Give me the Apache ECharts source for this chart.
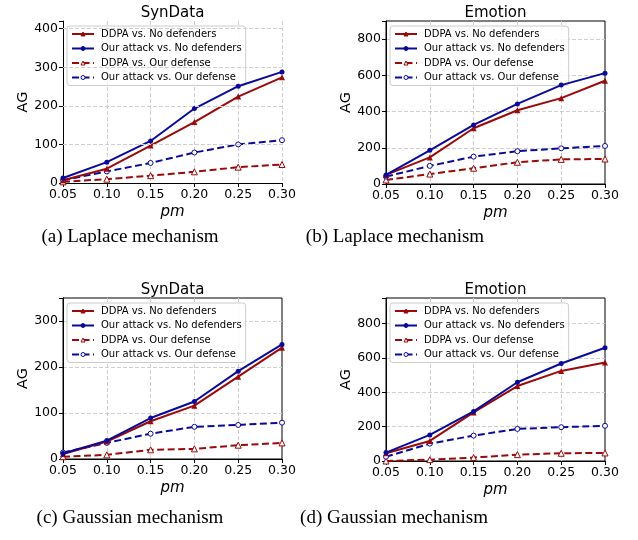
<!DOCTYPE html>
<html>
<head>
<meta charset="utf-8">
<script src="https://cdn.jsdelivr.net/npm/echarts@6/dist/echarts.min.js"></script>
<style>
  html, body { margin: 0; padding: 0; background: #fff; }
  #chart { width: 638px; height: 540px; }
</style>
</head>
<body>
<div id="chart"></div>
<script>
// Attack gain (AG) versus poisoning ratio pm
const pm = [0.05, 0.10, 0.15, 0.20, 0.25, 0.30];
const seriesNames = [
  'DDPA vs. No defenders',
  'Our attack vs. No defenders',
  'DDPA vs. Our defense',
  'Our attack vs. Our defense'
];

// (a) SynData, Laplace mechanism
const synLapDdpaNo = [7, 37, 97, 158, 224, 274];
const synLapOursNo = [13, 54, 109, 193, 251, 288];
const synLapDdpaDef = [3, 10, 19, 29, 41, 48];
const synLapOursDef = [7, 30, 52, 79, 100, 111];

// (b) Emotion, Laplace mechanism
const emoLapDdpaNo = [50, 147, 308, 407, 474, 570];
const emoLapOursNo = [50, 186, 326, 442, 546, 612];
const emoLapDdpaDef = [22, 55, 87, 120, 136, 138];
const emoLapOursDef = [41, 100, 151, 181, 197, 210];

// (c) SynData, Gaussian mechanism
const synGauDdpaNo = [11, 38, 82, 116, 179, 242];
const synGauOursNo = [12, 40, 89, 125, 191, 249];
const synGauDdpaDef = [5, 9, 20, 22, 30, 35];
const synGauOursDef = [14, 35, 55, 70, 74, 79];

// (d) Emotion, Gaussian mechanism
const emoGauDdpaNo = [45, 117, 283, 437, 525, 574];
const emoGauOursNo = [49, 152, 289, 459, 568, 660];
const emoGauDdpaDef = [0, 8, 20, 37, 45, 47];
const emoGauOursDef = [25, 101, 148, 187, 197, 205];

const panelTitles = ['SynData', 'Emotion', 'SynData', 'Emotion'];
const captions = [
  '(a) Laplace mechanism',
  '(b) Laplace mechanism',
  '(c) Gaussian mechanism',
  '(d) Gaussian mechanism'
];
const yMax = [420, 900, 350, 950];
const yStep = [100, 200, 100, 200];

const panelData = [
  [synLapDdpaNo, synLapOursNo, synLapDdpaDef, synLapOursDef],
  [emoLapDdpaNo, emoLapOursNo, emoLapDdpaDef, emoLapOursDef],
  [synGauDdpaNo, synGauOursNo, synGauDdpaDef, synGauOursDef],
  [emoGauDdpaNo, emoGauOursNo, emoGauDdpaDef, emoGauOursDef]
];

// plot rectangles; the first panel is drawn open (left and bottom spines only)
const boxes = [
  { left: 63, top: 21, width: 219, height: 162, frame: false },
  { left: 386, top: 21, width: 219, height: 163, frame: true },
  { left: 63, top: 298, width: 219, height: 161, frame: true },
  { left: 386, top: 298, width: 219, height: 163, frame: true }
];
const captionPos = [[130, 228], [395, 228], [130, 509], [394, 509]];

const RED = '#9a0a0a';
const BLUE = '#0a0a9a';
const GRID_COLOR = '#cfcfcf';
const FONT = 'DejaVu Sans';

const styles = [
  { color: RED, symbol: 'triangle', size: 6, dashed: false },
  { color: BLUE, symbol: 'circle', size: 5, dashed: false },
  { color: RED, symbol: 'triangle', size: 6, dashed: true },
  { color: BLUE, symbol: 'circle', size: 5, dashed: true }
];

const grid = [], xAxis = [], yAxis = [], series = [], legend = [], title = [];

boxes.forEach((b, i) => {
  grid.push({
    left: b.left, top: b.top, width: b.width, height: b.height,
    show: b.frame, borderColor: '#000', borderWidth: 1, backgroundColor: 'transparent'
  });
  xAxis.push({
    gridIndex: i, type: 'value', min: 0.05, max: 0.30, interval: 0.05,
    name: 'pm', nameLocation: 'middle', nameGap: 22,
    nameTextStyle: { fontFamily: FONT, fontSize: 15, fontStyle: 'italic', color: '#000' },
    axisLine: { show: true, lineStyle: { color: '#000', width: 1 } },
    axisTick: { show: true, length: 4, lineStyle: { color: '#000' } },
    axisLabel: { fontFamily: FONT, fontSize: 12.5, color: '#000', margin: 5,
      formatter: v => v.toFixed(2) },
    // framed panels keep their black border on the outer edges
    splitLine: { show: true, showMinLine: false, showMaxLine: !b.frame,
      lineStyle: { color: GRID_COLOR, type: [4, 2], width: 1 } }
  });
  yAxis.push({
    gridIndex: i, type: 'value', min: 0, max: yMax[i], interval: yStep[i],
    name: 'AG', nameLocation: 'middle', nameGap: 30, nameRotate: 90,
    nameTextStyle: { fontFamily: FONT, fontSize: 14.5, color: '#000' },
    axisLine: { show: true, lineStyle: { color: '#000', width: 1 } },
    axisTick: { show: true, length: 4, lineStyle: { color: '#000' } },
    axisLabel: { fontFamily: FONT, fontSize: 12.5, color: '#000', margin: 5,
      formatter: v => (v % yStep[i] === 0 ? String(v) : '') },
    // open panel: horizontal grid lines come from a markLine so the top edge stays clear
    splitLine: { show: b.frame, showMinLine: false, showMaxLine: false,
      lineStyle: { color: GRID_COLOR, type: [4, 2], width: 1 } }
  });
  if (!b.frame) {
    const levels = [];
    for (let v = yStep[i]; v <= yMax[i]; v += yStep[i]) levels.push({ yAxis: v });
    series.push({
      type: 'line', xAxisIndex: i, yAxisIndex: i, data: [], silent: true, z: 1,
      markLine: {
        silent: true, symbol: 'none', animation: false,
        label: { show: false },
        lineStyle: { color: GRID_COLOR, type: [4, 2], width: 1 },
        emphasis: { disabled: true },
        data: levels
      }
    });
  }
  panelData[i].forEach((vals, k) => {
    const s = styles[k];
    series.push({
      name: seriesNames[k], type: 'line', xAxisIndex: i, yAxisIndex: i,
      data: pm.map((x, j) => [x, vals[j]]),
      symbol: s.symbol, symbolSize: s.size, showSymbol: true,
      lineStyle: { color: s.color, width: 2, type: s.dashed ? [7, 3.5] : 'solid' },
      itemStyle: s.dashed
        ? { color: '#fff', borderColor: s.color, borderWidth: 1 }
        : { color: s.color, borderColor: s.color, borderWidth: 0 },
      emphasis: { disabled: true },
      z: 3 + (s.dashed ? 0 : 1)
    });
  });
  legend.push({
    data: seriesNames, orient: 'vertical',
    left: b.left + 4, top: b.top + 5,
    itemWidth: 22, itemHeight: 5, itemGap: 4.5,
    padding: [3, 4, 3, 4],
    backgroundColor: 'rgba(255,255,255,0.85)',
    borderColor: '#cccccc', borderWidth: 1, borderRadius: 3,
    itemStyle: { borderWidth: 1 },
    textStyle: { fontFamily: FONT, fontSize: 10, color: '#000', lineHeight: 10, padding: [0, 0, 0, 2] },
    selectedMode: false
  });
  title.push({
    text: panelTitles[i], left: b.left + b.width / 2, top: b.top - 15, textAlign: 'center',
    padding: 0,
    textStyle: { fontFamily: FONT, fontSize: 15, fontWeight: 'normal', color: '#000' }
  });
  title.push({
    text: captions[i], left: captionPos[i][0], top: captionPos[i][1], textAlign: 'center',
    padding: 0,
    textStyle: { fontFamily: 'Liberation Serif', fontSize: 19, fontWeight: 'normal', color: '#000' }
  });
});

const chart = echarts.init(document.getElementById('chart'), null, { renderer: 'canvas' });
chart.setOption({
  backgroundColor: '#fff',
  animation: false,
  title, grid, xAxis, yAxis, legend, series
});
</script>
</body>
</html>
